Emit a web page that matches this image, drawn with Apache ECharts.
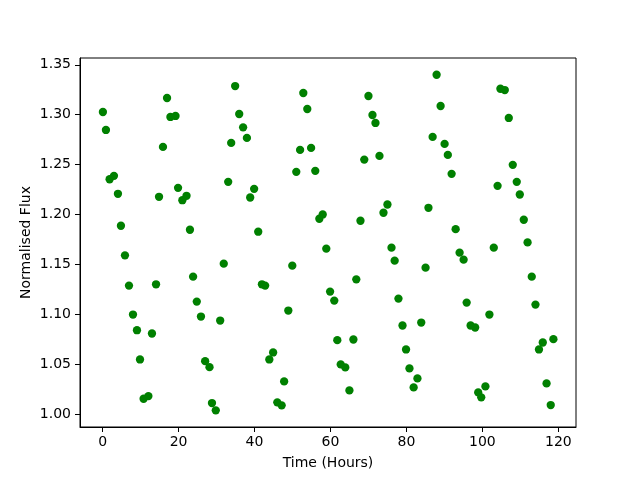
<!DOCTYPE html>
<html>
<head>
<meta charset="utf-8">
<script src="https://cdn.jsdelivr.net/npm/echarts@6/dist/echarts.min.js"></script>
<style>html,body{margin:0;padding:0;background:#fff}#c{width:640px;height:480px}</style>
</head>
<body>
<div id="c"></div>
<script>
var time = [0.08,0.88,1.85,2.99,4.04,4.83,5.89,6.95,8.0,9.05,9.85,10.8,12.06,13.0,14.07,14.86,15.9,16.97,17.85,19.2,19.87,21.0,22.1,23.0,23.83,24.8,25.9,27.0,28.15,28.8,29.8,30.96,31.9,33.07,33.86,34.9,35.97,37.0,38.0,38.86,39.9,40.98,41.95,42.8,43.9,44.9,46.0,47.15,47.8,48.9,49.95,51.0,52.0,52.85,53.9,54.9,56.0,57.07,57.96,58.9,59.9,61.0,61.8,62.7,63.9,64.99,66.04,66.8,67.9,68.9,70.0,71.06,71.85,72.9,73.96,75.0,76.07,76.9,77.9,78.97,79.9,80.8,81.9,82.9,83.9,85.04,85.8,86.9,87.95,89.0,90.05,90.9,91.9,92.96,94.0,95.06,95.86,96.9,98.1,98.9,99.7,100.8,101.85,103.0,104.0,104.75,105.9,106.95,108.0,109.05,109.85,110.9,111.9,113.0,113.98,114.9,115.9,116.9,118.0,118.7];
var flux = [1.3027,1.2847,1.2353,1.2387,1.2207,1.1887,1.159,1.1287,1.0997,1.084,1.0547,1.0153,1.018,1.0807,1.130,1.2177,1.2677,1.3167,1.2977,1.2987,1.2267,1.2143,1.2187,1.1847,1.1377,1.1127,1.0977,1.053,1.047,1.011,1.0037,1.0937,1.1507,1.2327,1.2717,1.3287,1.3007,1.2873,1.2767,1.217,1.2257,1.1827,1.130,1.1287,1.0547,1.0617,1.0117,1.0087,1.0327,1.1037,1.1487,1.2427,1.2647,1.3217,1.3057,1.2667,1.2437,1.1957,1.200,1.1657,1.1227,1.1137,1.074,1.0497,1.0467,1.0237,1.0747,1.135,1.1937,1.255,1.3187,1.2997,1.2917,1.2587,1.2017,1.210,1.1667,1.1537,1.1157,1.0887,1.0647,1.0457,1.0267,1.0357,1.0917,1.1467,1.2067,1.2777,1.340,1.3087,1.2707,1.2597,1.2407,1.1853,1.1617,1.1547,1.1117,1.0887,1.0867,1.0217,1.0167,1.0277,1.0997,1.1667,1.2287,1.326,1.3247,1.2967,1.2497,1.2327,1.220,1.1947,1.172,1.1377,1.1097,1.0647,1.0717,1.0307,1.009,1.075];
var xTicks = [0,20,40,60,80,100,120];
var yTicks = [1.00,1.05,1.10,1.15,1.20,1.25,1.30,1.35];

var points = time.map(function(t,i){return [t, flux[i]];});
var font = 'DejaVu Sans';
var chart = echarts.init(document.getElementById('c'), null, {renderer:'canvas'});
chart.setOption({
  animation: false,
  backgroundColor: '#fff',
  grid: {left:80, right:64, top:58, bottom:53, show:true, borderColor:'#000', borderWidth:1, backgroundColor:'transparent'},
  xAxis: {
    type:'value', min:-5.95, max:124.65,
    name:'Time (Hours)', nameLocation:'middle', nameGap:29, nameMoveOverlap:false,
    nameTextStyle:{fontFamily:font, fontSize:14, color:'#000'},
    axisLine:{show:true, onZero:false, lineStyle:{color:'#000', width:1}},
    axisTick:{show:true, inside:false, length:5, lineStyle:{color:'#000', width:1}, customValues:xTicks},
    axisLabel:{fontFamily:font, fontSize:14, color:'#000', margin:8, customValues:xTicks, formatter:function(v){return String(Math.round(v));}},
    splitLine:{show:false}
  },
  yAxis: {
    type:'value', min:0.987, max:1.3568,
    name:'Normalised Flux', nameLocation:'middle', nameGap:47, nameMoveOverlap:false,
    nameTextStyle:{fontFamily:font, fontSize:14, color:'#000'},
    axisLine:{show:true, onZero:false, lineStyle:{color:'#000', width:1}},
    axisTick:{show:true, inside:false, length:5, lineStyle:{color:'#000', width:1}, customValues:yTicks},
    axisLabel:{fontFamily:font, fontSize:14, color:'#000', margin:9, customValues:yTicks, formatter:function(v){return v.toFixed(2);}},
    splitLine:{show:false}
  },
  series: [{
    type:'scatter', data:points, symbol:'circle', symbolSize:8.3,
    itemStyle:{color:'#008000', opacity:1}
  }]
});
</script>
</body>
</html>
